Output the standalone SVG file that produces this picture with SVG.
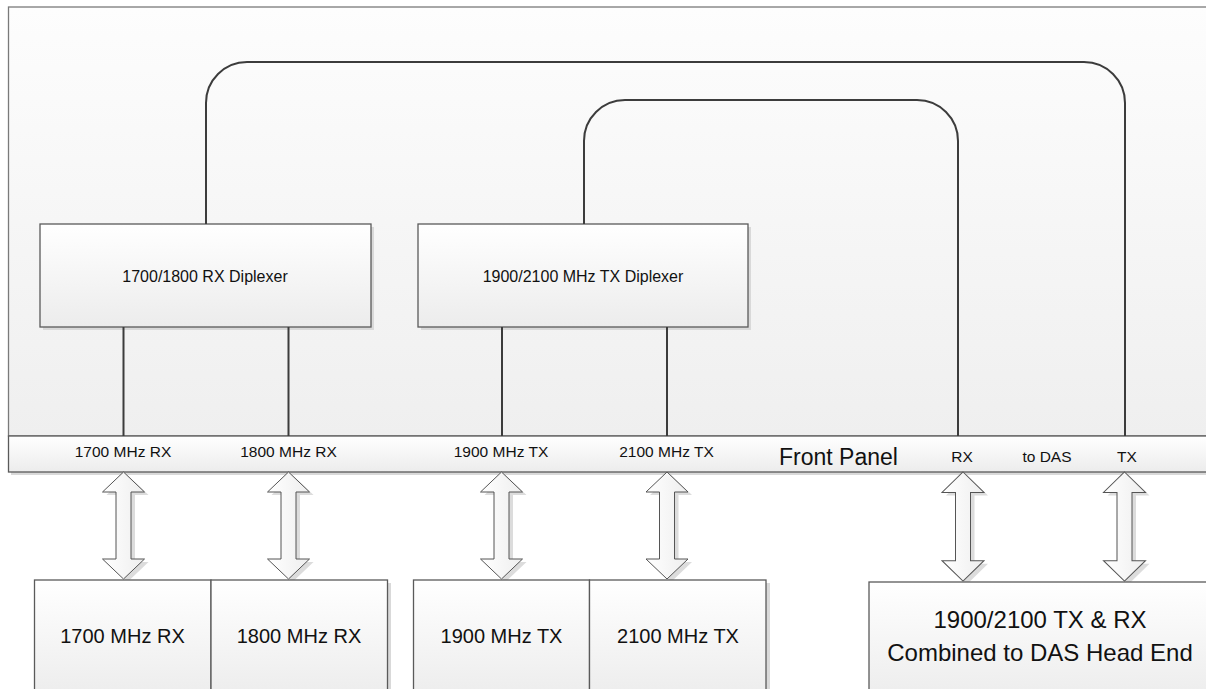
<svg xmlns="http://www.w3.org/2000/svg" xmlns:xlink="http://www.w3.org/1999/xlink" width="1206" height="689" viewBox="0 0 1206 689">
<defs>
<linearGradient id="gBg" x1="0" y1="0" x2="0" y2="1"><stop offset="0" stop-color="#fdfdfd"/><stop offset="1" stop-color="#efefef"/></linearGradient>
<linearGradient id="gBox" x1="0" y1="0" x2="0" y2="1"><stop offset="0" stop-color="#ffffff"/><stop offset="1" stop-color="#ececec"/></linearGradient>
<linearGradient id="gArrow" x1="0" y1="0" x2="1" y2="0"><stop offset="0" stop-color="#ffffff"/><stop offset="1" stop-color="#eeeeee"/></linearGradient>
<path id="arr" d="M0 0 L21 20 L7.5 20 L7.5 87 L21 87 L0 107 L-21 87 L-7.5 87 L-7.5 20 L-21 20 Z"/>
<style>
.box{fill:url(#gBox);stroke:#5a5a5a;stroke-width:1.3}
.shadow{fill:#d9d9d9}
.conn{fill:none;stroke:#3c3c3c;stroke-width:2}
.arrow{fill:url(#gArrow);stroke:#555;stroke-width:1}
.ashadow{fill:#dcdcdc}
text{font-family:"Liberation Sans",Arial,sans-serif;fill:#111;text-anchor:middle}
.s{font-size:15.5px}
.d{font-size:16px}
.b{font-size:20px}
.l{font-size:24px}
</style>
</defs>
<rect width="1206" height="689" fill="#ffffff"/>
<g id="enclosure">
<rect x="11" y="10" width="1210" height="430" class="shadow"/>
<rect x="8.5" y="7" width="1210" height="429" fill="url(#gBg)" stroke="#7a7a7a" stroke-width="1.3"/>
</g>
<g id="front-panel">
<rect x="11" y="439" width="1210" height="36" class="shadow"/>
<rect x="8.5" y="436" width="1210" height="36" class="box" stroke="#7a7a7a"/>
<text class="s" x="123" y="457">1700 MHz RX</text>
<text class="s" x="288.5" y="457">1800 MHz RX</text>
<text class="s" x="501" y="457">1900 MHz TX</text>
<text class="s" x="666.5" y="457">2100 MHz TX</text>
<text x="838.5" y="465" style="font-size:23px">Front Panel</text>
<text class="s" x="962" y="462">RX</text>
<text class="s" x="1047" y="462">to DAS</text>
<text class="s" x="1127" y="462">TX</text>
</g>
<g id="rx-diplexer">
<rect x="43" y="227" width="331" height="103" class="shadow"/>
<rect x="40" y="224" width="331" height="103" class="box"/>
<text class="d" x="205" y="282">1700/1800 RX Diplexer</text>
</g>
<g id="tx-diplexer">
<rect x="421" y="227" width="330" height="103" class="shadow"/>
<rect x="418" y="224" width="330" height="103" class="box"/>
<text class="d" x="583" y="282">1900/2100 MHz TX Diplexer</text>
</g>
<g id="connectors">
<path class="conn" d="M206 224 V103 A41 41 0 0 1 247 62 H1084 A41 41 0 0 1 1125 103 V436"/>
<path class="conn" d="M584 224 V141 A41 41 0 0 1 625 100 H917 A41 41 0 0 1 958 141 V436"/>
<path class="conn" d="M123.5 327 V436 M288.5 327 V436 M502 327 V436 M667 327 V436"/>
</g>
<g id="arrows">
<use xlink:href="#arr" class="ashadow" transform="translate(127.5,475)"/>
<use xlink:href="#arr" class="arrow" transform="translate(123.5,472)"/>
<use xlink:href="#arr" class="ashadow" transform="translate(292.5,475)"/>
<use xlink:href="#arr" class="arrow" transform="translate(288.5,472)"/>
<use xlink:href="#arr" class="ashadow" transform="translate(505.5,475)"/>
<use xlink:href="#arr" class="arrow" transform="translate(501.5,472)"/>
<use xlink:href="#arr" class="ashadow" transform="translate(671,475)"/>
<use xlink:href="#arr" class="arrow" transform="translate(667,472)"/>
<use xlink:href="#arr" class="ashadow" transform="translate(967,475) scale(1,1.02)"/>
<use xlink:href="#arr" class="arrow" transform="translate(963,472) scale(1,1.02)"/>
<use xlink:href="#arr" class="ashadow" transform="translate(1128.5,475) scale(1,1.02)"/>
<use xlink:href="#arr" class="arrow" transform="translate(1124.5,472) scale(1,1.02)"/>
</g>
<g id="rx-1700">
<rect x="37" y="583" width="177" height="120" class="shadow"/>
<rect x="34.5" y="580" width="176.5" height="120" class="box"/>
<text class="b" x="122.5" y="643">1700 MHz RX</text>
</g>
<g id="rx-1800">
<rect x="214" y="583" width="177" height="120" class="shadow"/>
<rect x="211" y="580" width="176.5" height="120" class="box"/>
<text class="b" x="299" y="643">1800 MHz RX</text>
</g>
<g id="tx-1900">
<rect x="416" y="583" width="177" height="120" class="shadow"/>
<rect x="413.5" y="580" width="176" height="120" class="box"/>
<text class="b" x="501.5" y="643">1900 MHz TX</text>
</g>
<g id="tx-2100">
<rect x="593" y="583" width="177" height="120" class="shadow"/>
<rect x="589.5" y="580" width="176.5" height="120" class="box"/>
<text class="b" x="678" y="643">2100 MHz TX</text>
</g>
<g id="das-head-end">
<rect x="872" y="585" width="350" height="120" class="shadow"/>
<rect x="869" y="582" width="350" height="120" class="box"/>
<text class="l" x="1040" y="628">1900/2100 TX &amp; RX</text>
<text class="l" x="1040" y="661">Combined to DAS Head End</text>
</g>
</svg>
